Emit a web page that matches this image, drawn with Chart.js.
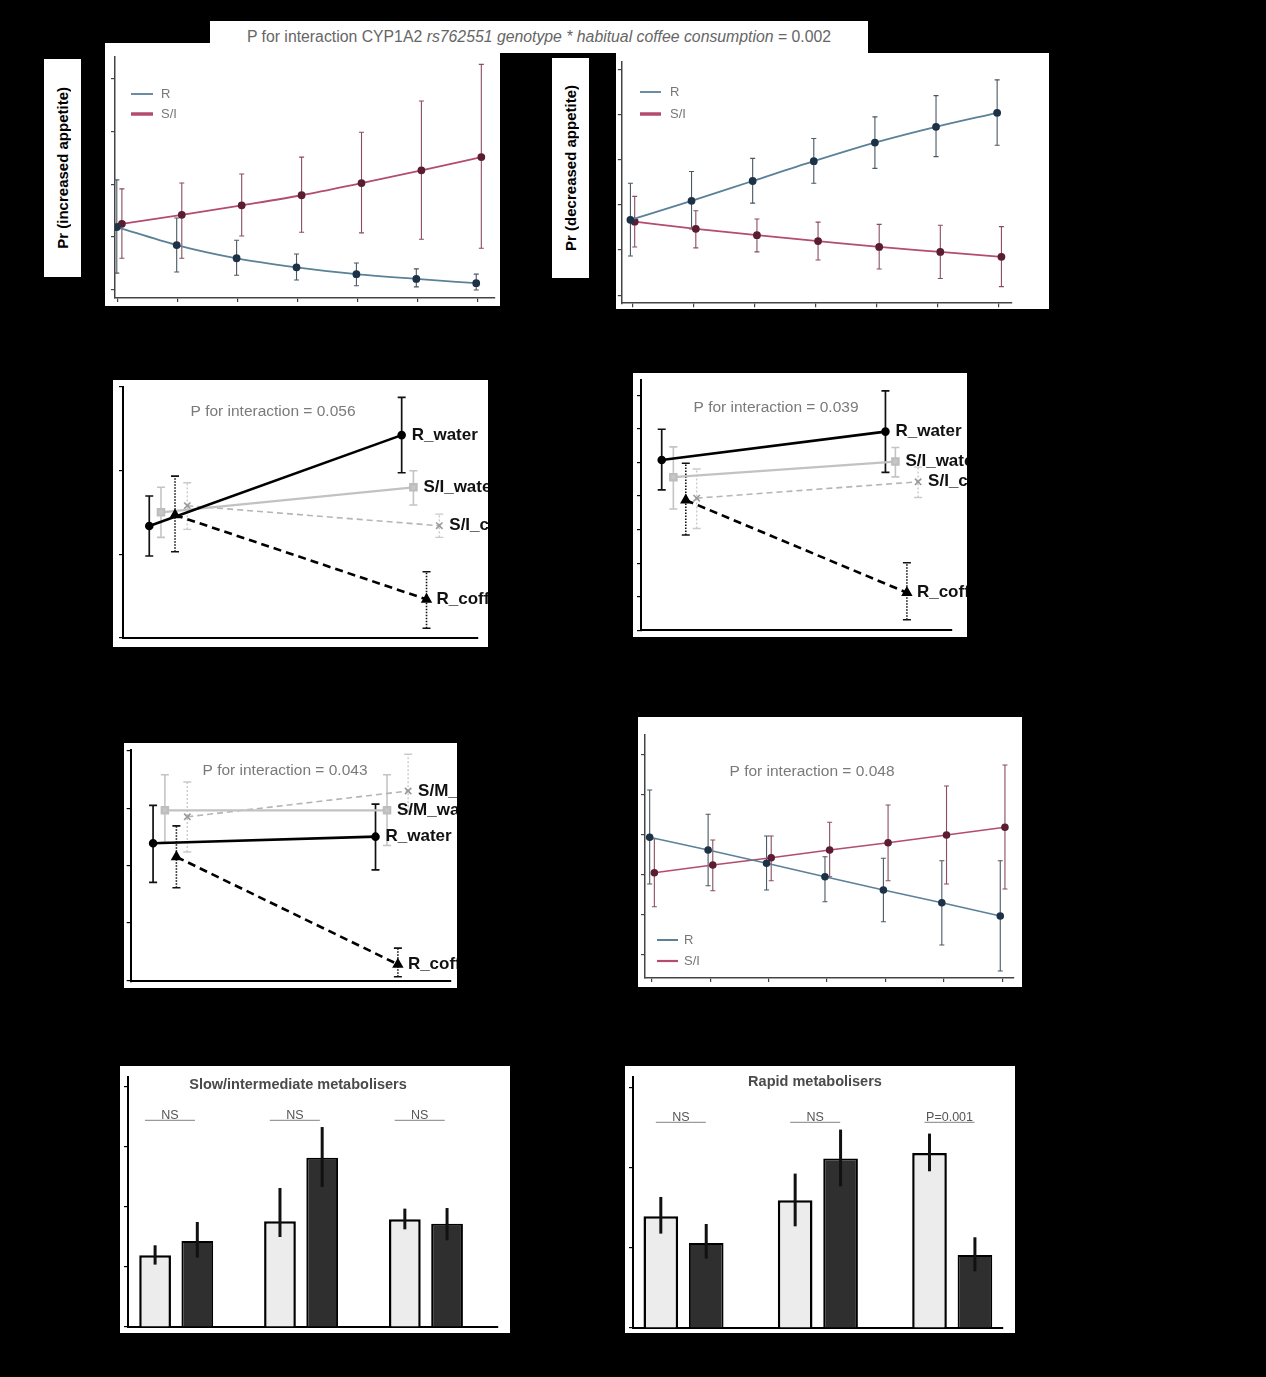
<!DOCTYPE html>
<html><head><meta charset="utf-8">
<script src="https://cdn.jsdelivr.net/npm/chart.js@4.4.1/dist/chart.umd.min.js"></script>
<style>
html,body{margin:0;padding:0;background:#000;}
body{width:1266px;height:1377px;position:relative;overflow:hidden;font-family:"Liberation Sans",Arial,sans-serif;}
canvas{position:absolute;background:#fff;display:block;}
.ylab{position:absolute;background:#fff;display:flex;align-items:center;justify-content:center;}
.ylab span{writing-mode:vertical-rl;transform:rotate(180deg);font-weight:bold;font-size:15px;color:#000;white-space:nowrap;}
#title{position:absolute;z-index:3;left:210px;top:21px;width:658px;height:32px;background:#fff;color:#666;font-size:15.8px;line-height:32px;text-align:center;white-space:nowrap;}
</style></head><body>
<div id="title">P for interaction CYP1A2 <i>rs762551 genotype * habitual coffee consumption</i> = 0.002</div>
<div class="ylab" style="left:44px;top:59px;width:37px;height:218px;"><span>Pr (increased appetite)</span></div>
<div class="ylab" style="left:552px;top:58px;width:37px;height:220px;"><span>Pr (decreased appetite)</span></div>
<script>
// ---------------- DATA ----------------
const doses = [0, 1, 2, 3, 4, 5, 6];
const groupLabels = ["R", "S/I"];

// Panel A: Pr(increased appetite)
const aR    = [0.119, 0.085, 0.060, 0.043, 0.030, 0.021, 0.013];
const aRlo  = [0.032, 0.034, 0.028, 0.019, 0.008, 0.006, 0.000];
const aRhi  = [0.208, 0.136, 0.094, 0.068, 0.051, 0.040, 0.030];
const aS    = [0.125, 0.142, 0.160, 0.179, 0.202, 0.226, 0.251];
const aSlo  = [0.060, 0.060, 0.102, 0.109, 0.108, 0.096, 0.079];
const aShi  = [0.191, 0.202, 0.219, 0.251, 0.298, 0.357, 0.426];

// Panel B: Pr(decreased appetite)
const bR    = [0.167, 0.209, 0.253, 0.297, 0.338, 0.373, 0.404];
const bRlo  = [0.087, 0.147, 0.204, 0.248, 0.281, 0.307, 0.332];
const bRhi  = [0.248, 0.274, 0.303, 0.347, 0.395, 0.442, 0.477];
const bS    = [0.163, 0.147, 0.133, 0.120, 0.107, 0.096, 0.085];
const bSlo  = [0.107, 0.105, 0.096, 0.078, 0.058, 0.037, 0.019];
const bShi  = [0.219, 0.187, 0.169, 0.162, 0.157, 0.155, 0.152];

// Panel C (P = 0.056)
const cxRw = [0.74, 7.85], cxSw = [1.07, 8.18], cxRc = [1.465, 8.55], cxSc = [1.81, 8.91];
const cRw = [1.338, 2.425], cRwLo = [0.980, 1.975], cRwHi = [1.697, 2.876];
const cSw = [1.502, 1.801], cSwLo = [1.203, 1.589], cSwHi = [1.801, 1.999];
const cSc = [1.581, 1.342], cScLo = [1.298, 1.203], cScHi = [1.855, 1.481];
const cRc = [1.470, 0.462], cRcLo = [1.031, 0.116], cRcHi = [1.935, 0.792];

// Panel D (P = 0.039)
const dxRw = [0.666, 7.86], dxSw = [1.04, 8.18], dxRc = [1.44, 8.55], dxSc = [1.79, 8.91];
const dRw = [5.073, 5.918], dRwLo = [4.181, 4.706], dRwHi = [5.988, 7.134];
const dSw = [4.560, 5.026], dSwLo = [3.615, 4.569], dSwHi = [5.464, 5.443];
const dSc = [3.936, 4.423], dScLo = [3.032, 3.956], dScHi = [4.802, 4.860];
const dRc = [3.878, 1.120], dRcLo = [2.840, 0.312], dRcHi = [4.977, 2.012];

// Panel E (P = 0.043)
const exRw = [0.70, 7.66], exSw = [1.07, 8.02], exRc = [1.43, 8.36], exSc = [1.77, 8.68];
const eSw = [2.964, 2.964], eSwLo = [2.407, 2.350], eSwHi = [3.583, 3.583];
const eSc = [2.850, 3.300], eScLo = [2.237, 2.947], eScHi = [3.458, 3.940];
const eRw = [2.390, 2.504], eRwLo = [1.709, 1.925], eRwHi = [3.049, 3.072];
const eRc = [2.152, 0.278], eRcLo = [1.613, 0.063], eRcHi = [2.692, 0.562];

// Panel F (P = 0.048)
const fR   = [3.943, 3.625, 3.293, 2.958, 2.625, 2.308, 1.975];
const fRlo = [2.775, 2.733, 2.625, 2.333, 1.833, 1.250, 0.600];
const fRhi = [5.125, 4.518, 3.975, 3.458, 3.418, 3.358, 3.358];
const fS   = [3.058, 3.250, 3.433, 3.625, 3.808, 4.000, 4.193];
const fSlo = [2.208, 2.608, 2.858, 2.958, 2.858, 2.775, 2.650];
const fShi = [3.908, 3.875, 3.975, 4.318, 4.750, 5.225, 5.750];

// Panels G/H: bars
const barGroups = [1, 2, 3];
const gLight = [1.195, 1.762, 1.795], gLightLo = [1.040, 1.500, 1.628], gLightHi = [1.362, 2.317, 1.973];
const gDark  = [1.433, 2.823, 1.723], gDarkLo  = [1.157, 2.333, 1.445], gDarkHi  = [1.750, 3.333, 1.983];
const gSig = ["NS", "NS", "NS"];
const hLight = [1.396, 1.596, 2.188], hLightLo = [1.180, 1.271, 1.959], hLightHi = [1.638, 1.930, 2.430];
const hDark  = [1.063, 2.118, 0.913], hDarkLo  = [0.868, 1.771, 0.709], hDarkHi  = [1.300, 2.480, 1.134];
const hSig = ["NS", "NS", "P=0.001"];

// ---------------- HELPERS ----------------
const FONT = '"Liberation Sans", Arial, sans-serif';
Chart.defaults.font.family = FONT;

function pts(xs, ys, shift) { return xs.map((x, i) => ({ x: x + (shift || 0), y: ys[i] })); }

function linAxis(min, max, step, tl, col, w) {
  return {
    type: 'linear', min: min, max: max, display: true, offset: false,
    ticks: { display: false, stepSize: step, includeBounds: false },
    grid: { drawOnChartArea: false, drawTicks: tl > 0, tickLength: tl, color: col, lineWidth: 1.2 },
    border: { display: true, color: col, width: w }
  };
}

function makeChart(p) {
  const c = document.createElement('canvas');
  c.width = p.box.w; c.height = p.box.h;
  c.style.left = p.box.x + 'px'; c.style.top = p.box.y + 'px';
  c.style.width = p.box.w + 'px'; c.style.height = p.box.h + 'px';
  document.body.appendChild(c);
  const pad = {
    left: p.plot.l - p.box.x - p.ytl,
    top: p.plot.t - p.box.y,
    right: p.box.x + p.box.w - p.plot.r,
    bottom: p.box.y + p.box.h - p.plot.b - p.xtl
  };
  return new Chart(c, {
    type: p.type,
    data: { datasets: p.datasets },
    options: {
      responsive: false, animation: false, devicePixelRatio: 1, events: [],
      layout: { padding: pad },
      plugins: { legend: { display: false }, tooltip: { enabled: false }, title: { display: false } },
      scales: {
        x: linAxis(p.x[0], p.x[1], p.x[2], p.xtl, p.axisColor, p.axisW),
        y: linAxis(p.y[0], p.y[1], p.y[2], p.ytl, p.axisColor, p.axisW)
      }
    },
    plugins: p.plugins
  });
}

function errPlugin(after) {
  const draw = (chart) => {
    const ctx = chart.ctx;
    chart.data.datasets.forEach((ds, di) => {
      if (!ds.err) return;
      const meta = chart.getDatasetMeta(di);
      const ys = chart.scales.y;
      const e = ds.err;
      ctx.save();
      ctx.strokeStyle = e.color; ctx.lineWidth = e.width; ctx.setLineDash(e.dash || []);
      ctx.lineCap = 'butt';
      meta.data.forEach((el, i) => {
        const x = el.x, y1 = ys.getPixelForValue(e.lo[i]), y2 = ys.getPixelForValue(e.hi[i]);
        ctx.beginPath(); ctx.moveTo(x, y1); ctx.lineTo(x, y2); ctx.stroke();
        if (e.cap) {
          ctx.setLineDash([]);
          ctx.beginPath();
          ctx.moveTo(x - e.cap, y1); ctx.lineTo(x + e.cap, y1);
          ctx.moveTo(x - e.cap, y2); ctx.lineTo(x + e.cap, y2);
          ctx.stroke();
          ctx.setLineDash(e.dash || []);
        }
      });
      ctx.restore();
    });
  };
  return after ? { id: 'errAfter', afterDatasetsDraw: draw } : { id: 'errBefore', beforeDatasetsDraw: draw };
}

function textPlugin(items) {
  return { id: 'texts', afterDraw(chart) {
    const ctx = chart.ctx;
    items.forEach(it => {
      ctx.save(); ctx.font = it.font; ctx.fillStyle = it.color;
      ctx.textAlign = it.align || 'center'; ctx.textBaseline = 'middle';
      ctx.fillText(it.t, it.x, it.y); ctx.restore();
    });
  } };
}

function legendPlugin(o) {
  return { id: 'legendLines', afterDraw(chart) {
    const ctx = chart.ctx;
    chart.data.datasets.forEach((ds, i) => {
      const y = o.y[i];
      ctx.save();
      ctx.strokeStyle = ds.borderColor; ctx.lineWidth = o.w[i];
      ctx.beginPath(); ctx.moveTo(o.x0, y); ctx.lineTo(o.x1, y); ctx.stroke();
      ctx.fillStyle = o.color; ctx.font = o.font; ctx.textBaseline = 'middle'; ctx.textAlign = 'left';
      ctx.fillText(ds.label, o.xt, y);
      ctx.restore();
    });
  } };
}

const endLabels = { id: 'endLabels', afterDatasetsDraw(chart) {
  const ctx = chart.ctx;
  chart.data.datasets.forEach((ds, i) => {
    const meta = chart.getDatasetMeta(i);
    const el = meta.data[meta.data.length - 1];
    ctx.save(); ctx.font = 'bold 17px ' + FONT; ctx.fillStyle = '#111';
    ctx.textAlign = 'left'; ctx.textBaseline = 'middle';
    ctx.fillText(ds.label, el.x + 10, el.y); ctx.restore();
  });
} };

function sigPlugin(labels, level, shift, half) {
  return { id: 'sig', afterDraw(chart) {
    const xs = chart.scales.x, ys = chart.scales.y, ctx = chart.ctx;
    const y = ys.getPixelForValue(level);
    labels.forEach((t, i) => {
      const x = xs.getPixelForValue(barGroups[i] + shift);
      ctx.save();
      ctx.strokeStyle = '#9a9a9a'; ctx.lineWidth = 1.2;
      ctx.beginPath(); ctx.moveTo(x - half, y); ctx.lineTo(x + half, y); ctx.stroke();
      ctx.fillStyle = '#555'; ctx.font = '12.5px ' + FONT;
      ctx.textAlign = 'center'; ctx.textBaseline = 'bottom';
      ctx.fillText(t, x, y + 1);
      ctx.restore();
    });
  } };
}

// ------------- STYLES -------------
const blueLine = '#5b8199', blueDot = '#1d3246', redLine = '#b44d6d', redDot = '#5a1d34';
function lineDs(label, data, line, dot, errLo, errHi, errCol, bw) {
  return { label: label, data: data, showLine: true, borderColor: line, borderWidth: bw,
    cubicInterpolationMode: 'monotone', pointRadius: 3, pointBackgroundColor: dot, pointBorderColor: dot,
    err: { lo: errLo, hi: errHi, color: errCol, width: 1.1, cap: 2.5 } };
}
function ciDs(kind, label, xs, ys, lo, hi) {
  const base = { label: label, data: pts(xs, ys), showLine: true };
  if (kind === 'Rw') return Object.assign(base, { borderColor: '#000', borderWidth: 2.6, pointStyle: 'circle', pointRadius: 3,
    pointBackgroundColor: '#000', pointBorderColor: '#000', err: { lo: lo, hi: hi, color: '#111', width: 1.7, cap: 4 } });
  if (kind === 'Rc') return Object.assign(base, { borderColor: '#000', borderWidth: 2.6, borderDash: [8, 5], pointStyle: 'triangle', pointRadius: 4,
    pointBackgroundColor: '#000', pointBorderColor: '#000', err: { lo: lo, hi: hi, color: '#111', width: 1.6, cap: 4, dash: [1.5, 1.5] } });
  if (kind === 'Sw') return Object.assign(base, { borderColor: '#c2c2c2', borderWidth: 2.2, pointStyle: 'rect', pointRadius: 4.5,
    pointBackgroundColor: '#c6c6c6', pointBorderColor: '#bdbdbd', err: { lo: lo, hi: hi, color: '#c4c4c4', width: 1.6, cap: 4 } });
  return Object.assign(base, { borderColor: '#b5b5b5', borderWidth: 1.6, borderDash: [6, 4], pointStyle: 'crossRot', pointRadius: 4.5,
    pointBackgroundColor: '#999', pointBorderColor: '#999', pointBorderWidth: 1.6, err: { lo: lo, hi: hi, color: '#cacaca', width: 1.4, cap: 4, dash: [2, 2] } });
}
function barDs(label, ys, lo, hi, fill, bw, bp) {
  return { label: label, data: pts(barGroups, ys), backgroundColor: fill, borderColor: '#000', borderWidth: bw,
    categoryPercentage: 0.676, barPercentage: bp, err: { lo: lo, hi: hi, color: '#111', width: 3 } };
}
const pFont = '15.5px ' + FONT;

// ------------- PANEL A -------------
makeChart({ type: 'scatter', box: { x: 105, y: 43, w: 395, h: 263 }, plot: { l: 115, t: 57, r: 500, b: 298 },
  ytl: 4, xtl: 4, x: [-0.05, 6.28, 1], y: [-0.015, 0.44, 0.1], axisColor: '#444', axisW: 1.5,
  datasets: [
    lineDs(groupLabels[0], pts(doses, aR, -0.02), blueLine, blueDot, aRlo, aRhi, '#4a5863', 1.8),
    lineDs(groupLabels[1], pts(doses, aS, 0.065), redLine, redDot, aSlo, aShi, '#8a4d5e', 1.8)
  ],
  plugins: [errPlugin(false), legendPlugin({ x0: 26, x1: 48, xt: 56, y: [51, 71], w: [1.8, 3.5], color: '#777', font: '13px ' + FONT })]
});

// ------------- PANEL B -------------
makeChart({ type: 'scatter', box: { x: 616, y: 53, w: 433, h: 256 }, plot: { l: 620, t: 62, r: 1012, b: 305 },
  ytl: 4, xtl: 4, x: [-0.171, 6.213, 1], y: [-0.0176, 0.5165, 0.1], axisColor: '#444', axisW: 1.5,
  datasets: [
    lineDs(groupLabels[0], pts(doses, bR, -0.03), blueLine, blueDot, bRlo, bRhi, '#4a5863', 1.8),
    lineDs(groupLabels[1], pts(doses, bS, 0.04), redLine, redDot, bSlo, bShi, '#8a4d5e', 1.8)
  ],
  plugins: [errPlugin(false), legendPlugin({ x0: 24, x1: 45, xt: 54, y: [39, 61], w: [1.8, 3.5], color: '#777', font: '13px ' + FONT })]
});

// ------------- PANEL C -------------
makeChart({ type: 'scatter', box: { x: 113, y: 380, w: 375, h: 267 }, plot: { l: 123, t: 387, r: 478, b: 638 },
  ytl: 4, xtl: 0, x: [0, 10, 1], y: [0, 3, 1], axisColor: '#000', axisW: 2,
  datasets: [
    ciDs('Rw', 'R_water', cxRw, cRw, cRwLo, cRwHi),
    ciDs('Rc', 'R_coffee', cxRc, cRc, cRcLo, cRcHi),
    ciDs('Sw', 'S/I_water', cxSw, cSw, cSwLo, cSwHi),
    ciDs('Sc', 'S/I_coffee', cxSc, cSc, cScLo, cScHi)
  ],
  plugins: [errPlugin(false), endLabels, textPlugin([{ t: 'P for interaction = 0.056', x: 160, y: 32, font: pFont, color: '#7a7a7a' }])]
});

// ------------- PANEL D -------------
makeChart({ type: 'scatter', box: { x: 633, y: 373, w: 334, h: 264 }, plot: { l: 641, t: 380, r: 952, b: 636 },
  ytl: 4, xtl: 0, x: [0, 10, 1], y: [0, 7.455, 1], axisColor: '#000', axisW: 2,
  datasets: [
    ciDs('Rw', 'R_water', dxRw, dRw, dRwLo, dRwHi),
    ciDs('Rc', 'R_coffee', dxRc, dRc, dRcLo, dRcHi),
    ciDs('Sw', 'S/I_water', dxSw, dSw, dSwLo, dSwHi),
    ciDs('Sc', 'S/I_coffee', dxSc, dSc, dScLo, dScHi)
  ],
  plugins: [errPlugin(false), endLabels, textPlugin([{ t: 'P for interaction = 0.039', x: 143, y: 35, font: pFont, color: '#7a7a7a' }])]
});

// ------------- PANEL E -------------
makeChart({ type: 'scatter', box: { x: 124, y: 743, w: 333, h: 245 }, plot: { l: 128, t: 747, r: 456, b: 984 },
  ytl: 4, xtl: 0, x: [0, 10, 1], y: [-0.017, 4.02, 1], axisColor: '#000', axisW: 2,
  datasets: [
    ciDs('Rw', 'R_water', exRw, eRw, eRwLo, eRwHi),
    ciDs('Rc', 'R_coffee', exRc, eRc, eRcLo, eRcHi),
    ciDs('Sw', 'S/M_water', exSw, eSw, eSwLo, eSwHi),
    ciDs('Sc', 'S/M_coffee', exSc, eSc, eScLo, eScHi)
  ],
  plugins: [errPlugin(false), endLabels, textPlugin([{ t: 'P for interaction = 0.043', x: 161, y: 28, font: pFont, color: '#7a7a7a' }])]
});

// ------------- PANEL F -------------
makeChart({ type: 'scatter', box: { x: 638, y: 717, w: 384, h: 270 }, plot: { l: 645, t: 735, r: 1014, b: 978 },
  ytl: 4, xtl: 4, x: [-0.115, 6.2, 1], y: [0.425, 6.5, 1], axisColor: '#444', axisW: 1.5,
  datasets: [
    Object.assign(lineDs(groupLabels[0], pts(doses, fR, -0.035), blueLine, blueDot, fRlo, fRhi, '#4a5863', 1.6), { cubicInterpolationMode: 'default' }),
    Object.assign(lineDs(groupLabels[1], pts(doses, fS, 0.045), redLine, redDot, fSlo, fShi, '#8a4d5e', 1.6), { cubicInterpolationMode: 'default' })
  ],
  plugins: [errPlugin(false), legendPlugin({ x0: 19, x1: 40, xt: 46, y: [223, 244], w: [2, 2.2], color: '#777', font: '13px ' + FONT }),
    textPlugin([{ t: 'P for interaction = 0.048', x: 174, y: 55, font: pFont, color: '#7a7a7a' }])]
});

// ------------- PANEL G -------------
makeChart({ type: 'bar', box: { x: 120, y: 1066, w: 390, h: 267 }, plot: { l: 128, t: 1077, r: 498, b: 1327 },
  ytl: 4, xtl: 0, x: [0.614, 3.577, 1], y: [0, 4.167, 1], axisColor: '#000', axisW: 2,
  datasets: [
    barDs('light', gLight, gLightLo, gLightHi, '#ececec', 2.5, 0.752),
    barDs('dark', gDark, gDarkLo, gDarkHi, '#2f2f2f', 2, 0.752)
  ],
  plugins: [errPlugin(true), sigPlugin(gSig, 3.445, -0.05, 25),
    textPlugin([{ t: 'Slow/intermediate metabolisers', x: 178, y: 19, font: 'bold 14.5px ' + FONT, color: '#4a4a4a' }])]
});

// ------------- PANEL H -------------
makeChart({ type: 'bar', box: { x: 625, y: 1066, w: 390, h: 267 }, plot: { l: 633, t: 1077, r: 1003, b: 1328 },
  ytl: 4, xtl: 0, x: [0.624, 3.378, 1], y: [0, 3.1375, 1], axisColor: '#000', axisW: 2,
  datasets: [
    barDs('light', hLight, hLightLo, hLightHi, '#ececec', 2.5, 0.763),
    barDs('dark', hDark, hDarkLo, hDarkHi, '#2f2f2f', 2, 0.763)
  ],
  plugins: [errPlugin(true), sigPlugin(hSig, 2.57, -0.02, 25),
    textPlugin([{ t: 'Rapid metabolisers', x: 190, y: 16, font: 'bold 14.5px ' + FONT, color: '#4a4a4a' }])]
});
</script>
</body></html>
